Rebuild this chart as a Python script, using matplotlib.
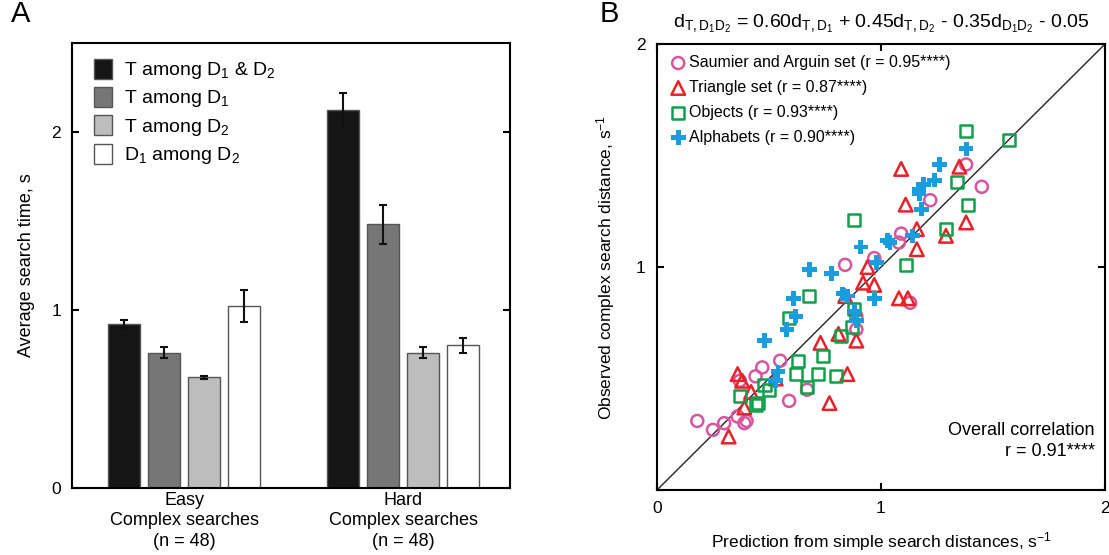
import numpy as np
import matplotlib
matplotlib.use("Agg")
import matplotlib.pyplot as plt

plt.rcParams['font.family'] = ['Liberation Sans', 'DejaVu Sans']
plt.rcParams['mathtext.default'] = 'regular'

# ---- panel A data ----
groups = ['Easy\nComplex searches\n(n = 48)', 'Hard\nComplex searches\n(n = 48)']
conditions = [r'T among D$_1$ & D$_2$', r'T among D$_1$', r'T among D$_2$', r'D$_1$ among D$_2$']
easy_means = [0.92, 0.76, 0.62, 1.02]
easy_err = [0.02, 0.03, 0.01, 0.09]
hard_means = [2.12, 1.48, 0.76, 0.80]
hard_err = [0.10, 0.11, 0.03, 0.04]
bar_colors = ['#151515', '#767676', '#bdbdbd', '#ffffff']

# ---- panel B data (prediction, observed) ----
saumier_x = [0.18, 0.25, 0.30, 0.36, 0.40, 0.39, 0.37, 0.44, 0.47, 0.55, 0.59, 0.67,
             0.84, 0.89, 0.89, 0.97, 1.13, 1.08, 1.09, 1.22, 1.38, 1.45]
saumier_y = [0.31, 0.27, 0.30, 0.33, 0.31, 0.30, 0.49, 0.51, 0.55, 0.58, 0.40, 0.45,
             1.01, 0.72, 0.78, 1.04, 0.84, 1.11, 1.15, 1.30, 1.46, 1.36]
triangle_x = [0.36, 0.38, 0.42, 0.39, 0.32, 0.53, 0.73, 0.81, 0.89, 0.85, 0.77, 0.94,
              0.92, 0.97, 1.08, 1.12, 0.84, 1.09, 1.35, 1.11, 1.16, 1.16, 1.29, 1.38]
triangle_y = [0.52, 0.49, 0.44, 0.37, 0.24, 0.50, 0.66, 0.70, 0.67, 0.52, 0.39, 1.00,
              0.93, 0.92, 0.86, 0.86, 0.87, 1.44, 1.45, 1.28, 1.17, 1.08, 1.14, 1.20]
objects_x = [0.37, 0.44, 0.45, 0.48, 0.50, 0.63, 0.62, 0.67, 0.72, 0.74, 0.80, 0.68,
             0.59, 0.82, 0.87, 0.88, 0.88, 1.11, 1.29, 1.34, 1.39, 1.38, 1.57]
objects_y = [0.42, 0.38, 0.39, 0.47, 0.45, 0.58, 0.52, 0.46, 0.52, 0.60, 0.51, 0.87,
             0.77, 0.69, 0.73, 0.81, 1.21, 1.01, 1.17, 1.38, 1.28, 1.61, 1.57]
alphabet_x = [0.48, 0.58, 0.62, 0.61, 0.68, 0.78, 0.83, 0.85, 0.88, 0.89, 0.97, 0.98,
              0.91, 0.54, 0.53, 1.03, 1.04, 1.14, 1.18, 1.17, 1.17, 1.19, 1.24, 1.26, 1.38]
alphabet_y = [0.67, 0.72, 0.78, 0.86, 0.99, 0.97, 0.88, 0.87, 0.80, 0.76, 0.86, 1.02,
              1.09, 0.53, 0.49, 1.12, 1.11, 1.14, 1.26, 1.33, 1.35, 1.37, 1.39, 1.46, 1.53]

fig = plt.figure(figsize=(11.09, 5.55), dpi=100)

# ---------------- panel A ----------------
axA = fig.add_axes([0.065, 0.121, 0.395, 0.802])
width = 0.146
step = 0.183
gx = np.arange(len(groups))
for i in range(4):
    pos = gx + (i - 1.5) * step
    axA.bar(pos, [easy_means[i], hard_means[i]], width=width, color=bar_colors[i],
            edgecolor='#555555', linewidth=1.0, label=conditions[i], zorder=2)
    axA.errorbar(pos, [easy_means[i], hard_means[i]], yerr=[easy_err[i], hard_err[i]],
                 fmt='none', ecolor='#111111', elinewidth=1.5, capsize=3, capthick=1.5, zorder=3)
axA.set_xlim(-0.511, 1.489)
axA.set_ylim(0, 2.5)
axA.set_yticks([0, 1, 2])
axA.set_xticks(gx)
axA.set_xticklabels(groups, fontsize=13)
for t in axA.get_xticklabels():
    t.set_linespacing(1.25)
axA.tick_params(axis='x', length=0, pad=3)
axA.tick_params(axis='y', direction='in', length=5, width=1.5, right=True, labelsize=12.5, pad=8)
axA.set_ylabel('Average search time, s', fontsize=13, labelpad=12)
for s in axA.spines.values():
    s.set_linewidth(1.5)
legA = axA.legend(loc='upper left', frameon=False, fontsize=14, handlelength=0.9,
                  handleheight=1.2, handletextpad=0.6, labelspacing=0.3,
                  bbox_to_anchor=(0.02, 0.995), borderaxespad=0.3)
fig.text(0.010, 0.96, 'A', fontsize=21)

# ---------------- panel B ----------------
axB = fig.add_axes([0.5924, 0.117, 0.404, 0.8036])
lw = 1.8
axB.scatter(saumier_x, saumier_y, s=75, marker='o', facecolors='none', edgecolors='#d8559f',
            linewidths=lw, label='Saumier and Arguin set (r = 0.95****)', zorder=3)
axB.scatter(triangle_x, triangle_y, s=95, marker='^', facecolors='none', edgecolors='#e8222a',
            linewidths=lw, label='Triangle set (r = 0.87****)', zorder=3)
axB.scatter(objects_x, objects_y, s=75, marker='s', facecolors='none', edgecolors='#10a04c',
            linewidths=lw, label='Objects (r = 0.93****)', zorder=3)
axB.scatter(alphabet_x, alphabet_y, s=110, marker='P', color='#1a9ddf', edgecolors='none',
            label='Alphabets (r = 0.90****)', zorder=3)
axB.plot([0, 2], [0, 2], color='#222222', linewidth=1.0, zorder=2)
axB.set_xlim(0, 2)
axB.set_ylim(0, 2)
axB.set_xticks([0, 1, 2])
axB.set_yticks([0, 1, 2])
axB.set_xticklabels(['0', '1', '2'])
axB.set_yticklabels(['', '1', '2'])
axB.tick_params(direction='in', length=5, width=1.5, top=True, right=True, labelsize=12.5, pad=8)
for s in axB.spines.values():
    s.set_linewidth(1.5)
axB.set_xlabel(r'Prediction from simple search distances, s$^{-1}$', fontsize=12.5, labelpad=10)
axB.set_ylabel(r'Observed complex search distance, s$^{-1}$', fontsize=12.5, labelpad=14)
axB.legend(loc='upper left', frameon=False, fontsize=11.5, handlelength=0.7, handletextpad=0.35,
           labelspacing=0.62, borderaxespad=0.3, bbox_to_anchor=(0.01, 1.0))
axB.text(0.977, 0.11, 'Overall correlation\nr = 0.91****', transform=axB.transAxes,
         ha='right', va='center', fontsize=13, multialignment='right', linespacing=1.35)
axB.set_title(r'$d_{T,D_1D_2}$ = 0.60$d_{T,D_1}$ + 0.45$d_{T,D_2}$ - 0.35$d_{D_1D_2}$ - 0.05',
              fontsize=14, pad=12)
fig.text(0.541, 0.96, 'B', fontsize=21)

fig.savefig('out.png', dpi=100)
